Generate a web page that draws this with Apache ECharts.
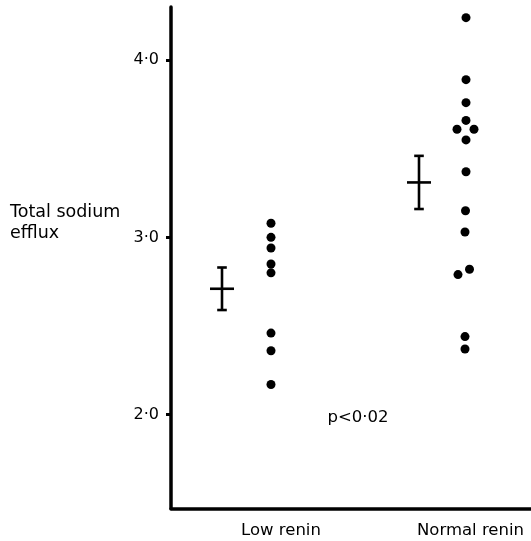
<!DOCTYPE html>
<html>
<head>
<meta charset="utf-8">
<script src="https://cdn.jsdelivr.net/npm/echarts@6/dist/echarts.min.js"></script>
<style>html,body{margin:0;padding:0;background:#fff;}#c{width:531px;height:541px;}</style>
</head>
<body>
<div id="c"></div>
<script>
// ---- data ----
const categories = ['Low renin', 'Normal renin'];
const categoryX = [11.0, 29.95];
const yTicks = [2, 3, 4];
const yTickLabels = ['2·0', '3·0', '4·0'];

const lowRenin = [3.08, 3.00, 2.94, 2.85, 2.80, 2.46, 2.36, 2.17];
const lowReninX = [10.0, 10.0, 10.0, 10.0, 10.0, 10.0, 10.0, 10.0];

const normalRenin = [4.24, 3.89, 3.76, 3.66, 3.61, 3.61, 3.55, 3.37, 3.15, 3.03, 2.79, 2.82, 2.44, 2.37];
const normalReninX = [29.5, 29.5, 29.5, 29.5, 28.6, 30.3, 29.5, 29.5, 29.45, 29.4, 28.7, 29.85, 29.4, 29.4];

const meanX = [5.1, 24.8];
const means = [2.71, 3.31];
const lowerSE = [2.59, 3.16];
const upperSE = [2.83, 3.46];

const pValueText = 'p<0·02';
const yTitle = 'Total sodium\nefflux';

const FONT = 'DejaVu Sans';

const chart = echarts.init(document.getElementById('c'), null, {renderer: 'canvas'});

const lowPts = lowRenin.map((v, i) => [lowReninX[i], v]);
const normPts = normalRenin.map((v, i) => [normalReninX[i], v]);
const errData = means.map((m, i) => [meanX[i], m, lowerSE[i], upperSE[i]]);

chart.setOption({
  backgroundColor: '#fff',
  animation: false,
  grid: {left: 171, right: 0, top: 7, bottom: 32.5, containLabel: false},
  xAxis: {
    type: 'value', min: 0, max: 36,
    axisLine: {show: true, lineStyle: {color: '#000', width: 3.5}},
    axisTick: {show: false},
    splitLine: {show: false},
    axisLabel: {
      customValues: categoryX,
      formatter: function (v) {
        const i = categoryX.indexOf(v);
        return i >= 0 ? categories[i] : '';
      },
      color: '#000', fontFamily: FONT, fontSize: 16.5, margin: 14
    }
  },
  yAxis: {
    type: 'value', min: 1.47, max: 4.30,
    axisLine: {show: true, lineStyle: {color: '#000', width: 3.5}},
    axisTick: {show: true, customValues: yTicks, length: 5, lineStyle: {color: '#000', width: 3}},
    splitLine: {show: false},
    axisLabel: {
      customValues: yTicks,
      formatter: function (v) {
        const i = yTicks.indexOf(v);
        return i >= 0 ? yTickLabels[i] : '';
      },
      color: '#000', fontFamily: FONT, fontSize: 16, margin: 12
    }
  },
  graphic: [
    {type: 'text', left: 10, top: 202,
     style: {text: yTitle, font: '17.5px "' + FONT + '"', lineHeight: 21, fill: '#000'}},
    {type: 'text', x: 358, y: 418,
     style: {text: pValueText, font: '16.5px "' + FONT + '"', fill: '#000', align: 'center', verticalAlign: 'middle'}}
  ],
  series: [
    {type: 'scatter', data: lowPts, symbol: 'circle', symbolSize: 9, itemStyle: {color: '#000', opacity: 1}},
    {type: 'scatter', data: normPts, symbol: 'circle', symbolSize: 9, itemStyle: {color: '#000', opacity: 1}},
    {
      type: 'custom',
      data: errData,
      renderItem: function (params, api) {
        const c = api.coord([api.value(0), api.value(1)]);
        const lo = api.coord([api.value(0), api.value(2)]);
        const hi = api.coord([api.value(0), api.value(3)]);
        const st = {stroke: '#000', lineWidth: 2.6};
        const capW = 4.8, barW = 12;
        return {
          type: 'group',
          children: [
            {type: 'line', shape: {x1: c[0], y1: hi[1], x2: c[0], y2: lo[1]}, style: st},
            {type: 'line', shape: {x1: c[0] - capW, y1: hi[1], x2: c[0] + capW, y2: hi[1]}, style: st},
            {type: 'line', shape: {x1: c[0] - capW, y1: lo[1], x2: c[0] + capW, y2: lo[1]}, style: st},
            {type: 'line', shape: {x1: c[0] - barW, y1: c[1], x2: c[0] + barW, y2: c[1]}, style: st}
          ]
        };
      }
    }
  ]
});
</script>
</body>
</html>
